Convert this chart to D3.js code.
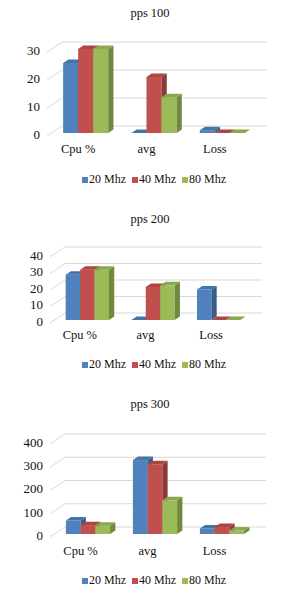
<!DOCTYPE html>
<html>
<head>
<meta charset="utf-8">
<script src="https://cdn.jsdelivr.net/npm/d3@7"></script>
<style>
  body { margin: 0; background: #fff; }
  svg text { font-family: "Liberation Serif", "DejaVu Serif", serif; fill: #111; }
</style>
</head>
<body>
<div id="chart"></div>
<script>
// data
const categories = ['Cpu %', 'avg', 'Loss'];
const seriesNames = ['20 Mhz', '40 Mhz', '80 Mhz'];
const titles = ['pps 100', 'pps 200', 'pps 300'];

// rows = series (20/40/80 Mhz), columns = categories
const pps100 = [[25, 0, 1], [30, 20, 0], [30, 12.8, 0]];
const pps200 = [[27.5, 0, 18.5], [30.5, 20, 0], [30.5, 21, 0]];
const pps300 = [[58, 318, 24], [38, 300, 30], [36, 145, 15]];

const ticks100 = [0, 10, 20, 30];
const ticks200 = [0, 10, 20, 30, 40];
const ticks300 = [0, 100, 200, 300, 400];

const colors = {
  front: ['#4f81bd', '#c0504d', '#9bbb59'],
  top:   ['#4573aa', '#ad4543', '#8aa84c'],
  side:  ['#385d8a', '#8c3a38', '#71893f']
};

const W = 306, H = 610;
const depth = [15, -10];     // floor/wall depth vector
const barOff = 0.3, barDepth = 0.35;

const svg = d3.select('#chart').append('svg')
  .attr('width', W).attr('height', H);

function drawChart(values, ticks, title, L) {
  const g = svg.append('g');
  const max = ticks[ticks.length - 1];

  const y = d3.scaleLinear([0, max], [L.y0, L.yTop]);
  const x = d3.scaleBand(categories, [L.x0, L.x1]).paddingInner(0.34).paddingOuter(0.17);
  const xs = d3.scaleBand(seriesNames, [0, x.bandwidth()]);

  g.append('text').attr('x', 150).attr('y', L.title)
    .attr('text-anchor', 'middle').attr('dominant-baseline', 'middle')
    .style('font-size', '12.5px').text(title);

  // walls: back grid lines + left diagonal lines
  const grid = g.append('g').attr('stroke', '#d9d9d9').attr('fill', 'none');
  ticks.forEach(t => {
    grid.append('path').attr('d',
      `M${L.x0},${y(t)}L${L.x0 + depth[0]},${y(t) + depth[1]}L${L.x1 + depth[0]},${y(t) + depth[1]}`);
  });

  g.selectAll('.tick').data(ticks).join('text')
    .attr('x', L.x0 - 7).attr('y', d => y(d))
    .attr('text-anchor', 'end').attr('dominant-baseline', 'middle')
    .style('font-size', '13px').text(d => d);

  // bars: front, top, side faces
  const ox = depth[0] * barOff, oy = depth[1] * barOff;
  const dx = depth[0] * barDepth, dy = depth[1] * barDepth;
  categories.forEach((c, ci) => {
    seriesNames.forEach((s, si) => {
      const v = values[si][ci];
      const bx = x(c) + xs(s) + ox, bw = xs.bandwidth();
      const by = y(v) + oy, b0 = y(0) + oy;
      g.append('rect').attr('x', bx).attr('y', by)
        .attr('width', bw).attr('height', b0 - by)
        .attr('fill', colors.front[si]);
      g.append('path').attr('fill', colors.side[si])
        .attr('d', `M${bx + bw},${by}L${bx + bw + dx},${by + dy}L${bx + bw + dx},${b0 + dy}L${bx + bw},${b0}Z`);
      g.append('path').attr('fill', colors.top[si])
        .attr('d', `M${bx},${by}L${bx + dx},${by + dy}L${bx + bw + dx},${by + dy}L${bx + bw},${by}Z`);
    });
  });

  g.selectAll('.cat').data(categories).join('text')
    .attr('x', d => x(d) + x.bandwidth() / 2 - 3).attr('y', L.cat)
    .attr('text-anchor', 'middle').attr('dominant-baseline', 'middle')
    .style('font-size', '12.5px').text(d => d);

  // legend
  const leg = g.selectAll('.leg').data(seriesNames).join('g')
    .attr('transform', (d, i) => `translate(${82 + i * 50},${L.legend})`);
  leg.append('rect').attr('x', 0).attr('y', -3).attr('width', 6).attr('height', 6)
    .attr('fill', (d, i) => colors.front[i]);
  leg.append('text').attr('x', 7).attr('y', 0).attr('dominant-baseline', 'middle')
    .style('font-size', '12px').text(d => d);
}

drawChart(pps100, ticks100, titles[0], { x0: 47, x1: 252, y0: 136, yTop: 52, title: 14, cat: 150, legend: 180 });
drawChart(pps200, ticks200, titles[1], { x0: 50, x1: 247, y0: 323, yTop: 257, title: 220, cat: 336, legend: 365 });
drawChart(pps300, ticks300, titles[2], { x0: 50, x1: 251, y0: 537, yTop: 444, title: 405, cat: 552, legend: 581 });
</script>
</body>
</html>
